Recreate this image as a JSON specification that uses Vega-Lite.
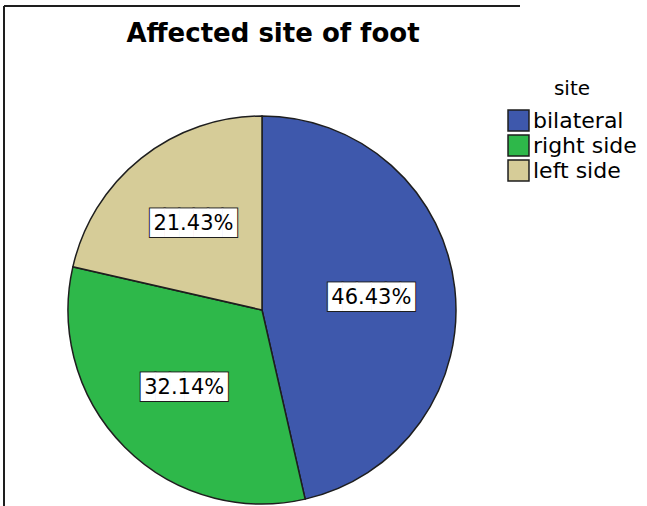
{
  "$schema": "https://vega.github.io/schema/vega-lite/v6.json",
  "autosize": "none",
  "padding": {"left": 4, "top": 6, "right": 127, "bottom": -108},
  "width": 516,
  "height": 608,
  "background": "white",
  "title": {
    "text": "Affected site of foot",
    "font": "DejaVu Sans",
    "fontSize": 26,
    "fontWeight": "bold",
    "color": "black",
    "anchor": "middle",
    "frame": "group",
    "offset": -42,
    "dx": 11
  },
  "config": {
    "view": {"stroke": null}
  },
  "data": {
    "values": [
      {"site": "bilateral", "share": 0.4643, "order": 1},
      {"site": "right side", "share": 0.3214, "order": 2},
      {"site": "left side", "share": 0.2143, "order": 3}
    ]
  },
  "layer": [
    {
      "data": {"values": [{"frame": "top"}]},
      "mark": {"type": "rule", "stroke": "#1e1e1e", "strokeWidth": 2},
      "encoding": {"y": {"value": 0}}
    },
    {
      "data": {"values": [{"frame": "left"}]},
      "mark": {"type": "rule", "stroke": "#1e1e1e", "strokeWidth": 2},
      "encoding": {"x": {"value": 0}}
    },
    {
      "mark": {"type": "arc", "radius": 194, "stroke": "#1e1e1e", "strokeWidth": 1.5},
      "encoding": {
        "theta": {"field": "share", "type": "quantitative", "stack": true},
        "order": {"field": "order", "type": "quantitative"},
        "color": {
          "field": "site",
          "type": "nominal",
          "sort": ["bilateral", "right side", "left side"],
          "scale": {"domain": ["bilateral", "right side", "left side"], "range": ["#3e58ac", "#2eb84a", "#d6cc98"]},
          "legend": {
            "title": "site",
            "orient": "none",
            "legendX": 503,
            "legendY": 73,
            "padding": 0,
            "titleFont": "DejaVu Sans",
            "titleFontSize": 20,
            "titleFontWeight": "normal",
            "titleColor": "black",
            "titleAnchor": "middle",
            "titlePadding": 10,
            "labelFont": "DejaVu Sans",
            "labelFontSize": 22,
            "labelColor": "black",
            "labelOffset": 3,
            "symbolType": "square",
            "symbolSize": 440,
            "symbolStrokeColor": "#1e1e1e",
            "symbolStrokeWidth": 1.5,
            "rowPadding": -4
          }
        }
      }
    },
    {
      "mark": {"type": "text", "radius": 110, "text": "██████", "font": "DejaVu Sans Mono", "fontSize": 24, "fill": "#1e1e1e", "stroke": "#1e1e1e", "strokeWidth": 2},
      "encoding": {
        "theta": {"field": "share", "type": "quantitative", "stack": true},
        "order": {"field": "order", "type": "quantitative"}
      }
    },
    {
      "mark": {"type": "text", "radius": 110, "text": "██████", "font": "DejaVu Sans Mono", "fontSize": 24, "fill": "white"},
      "encoding": {
        "theta": {"field": "share", "type": "quantitative", "stack": true},
        "order": {"field": "order", "type": "quantitative"}
      }
    },
    {
      "mark": {"type": "text", "radius": 110, "font": "DejaVu Sans", "fontSize": 21, "fill": "black"},
      "encoding": {
        "theta": {"field": "share", "type": "quantitative", "stack": true},
        "order": {"field": "order", "type": "quantitative"},
        "text": {"field": "share", "type": "quantitative", "format": ".2%"}
      }
    }
  ]
}
